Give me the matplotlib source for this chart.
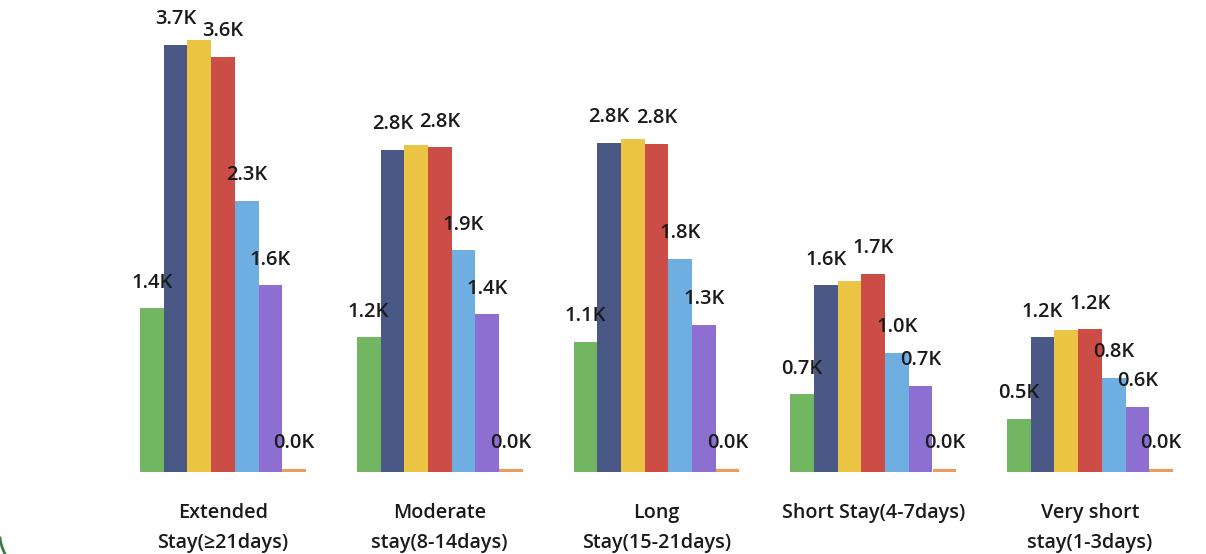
import numpy as np
import matplotlib
matplotlib.use('Agg')
import matplotlib.pyplot as plt

categories = ['Extended\nStay(≥21days)', 'Moderate\nstay(8-14days)', 'Long\nStay(15-21days)',
              'Short Stay(4-7days)', 'Very short\nstay(1-3days)']

# values in thousands, one list per series (colour)
s_green = [1.41, 1.16, 1.12, 0.67, 0.46]
s_navy = [3.68, 2.78, 2.84, 1.61, 1.16]
s_yellow = [3.72, 2.82, 2.87, 1.65, 1.22]
s_red = [3.58, 2.80, 2.83, 1.71, 1.23]
s_blue = [2.34, 1.91, 1.84, 1.03, 0.81]
s_purple = [1.61, 1.36, 1.27, 0.74, 0.56]
s_orange = [0.03, 0.03, 0.03, 0.03, 0.03]

series = [s_green, s_navy, s_yellow, s_red, s_blue, s_purple, s_orange]
colors = ['#72B661', '#4A5886', '#EBC443', '#CC4D46', '#6FAEE0', '#8C6FD1', '#EF9A5B']
show_label = [True, True, False, True, True, True, True]

plt.rcParams['font.family'] = ['Open Sans', 'DejaVu Sans']

fig = plt.figure(figsize=(12.06, 5.54), dpi=100)
base = 472
ax = fig.add_axes([0, (554 - base) / 554, 1, base / 554])

spacing = 216.75
w = 23.7 / spacing
x = np.arange(len(categories))
ax.set_xlim(-223 / spacing, (1206 - 223) / spacing)
ax.set_ylim(0, base / 116.0)

for j, vals in enumerate(series):
    pos = x + (j - 3) * w
    ax.bar(pos, vals, width=w, color=colors[j], linewidth=0)
    if show_label[j]:
        for px, v in zip(pos, vals):
            ax.annotate('%.1fK' % v, (px, v), xytext=(0, 18.5), textcoords='offset points',
                        ha='center', va='center', fontsize=14.5, fontweight='semibold',
                        color='#1a1a1a', annotation_clip=False)

ax.set_xticks(x)
ax.set_xticklabels(categories, fontsize=14.2, fontweight='semibold', color='#1a1a1a',
                   linespacing=1.68)
ax.tick_params(axis='x', length=0, pad=22.5)
ax.set_yticks([])
for s in ax.spines.values():
    s.set_visible(False)

# tiny decorative curve in the bottom-left corner
t = np.linspace(0, 1, 10)
fig.add_artist(plt.Line2D(5 / 1206 * t ** 1.5, 16 / 554 * (1 - t), transform=fig.transFigure,
                          color='#3d7a45', linewidth=2))

fig.savefig('out.png', dpi=100)
